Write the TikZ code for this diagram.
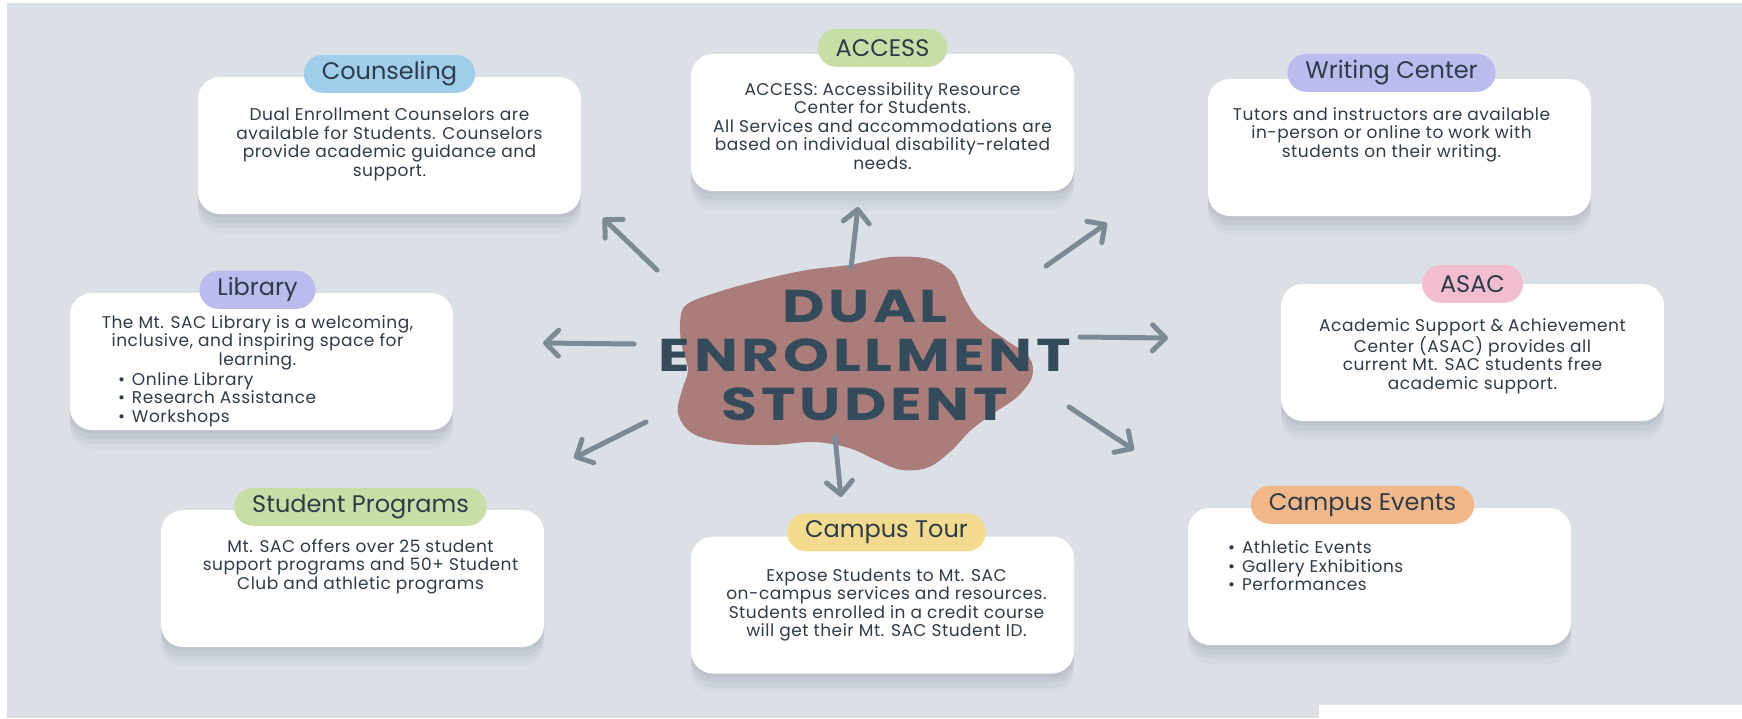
\documentclass[tikz,border=0pt]{standalone}
\usepackage{fontspec}
\setmainfont{Poppins}
\newfontfamily\titlefont[FakeStretch=1.27,LetterSpace=8]{Poppins}
\newfontfamily\bodyfont[LetterSpace=3]{Poppins}
\usetikzlibrary{positioning,arrows.meta,calc}
\definecolor{bgcol}{RGB}{219,224,231}
\definecolor{inkcol}{RGB}{46,60,74}
\definecolor{titlecol}{RGB}{52,75,92}
\definecolor{blobcol}{RGB}{170,125,123}
\definecolor{arrcol}{RGB}{124,138,150}
\definecolor{shadecol}{RGB}{110,120,135}
\definecolor{bluepill}{RGB}{160,205,234}
\definecolor{greenpill}{RGB}{199,223,166}
\definecolor{lilacpill}{RGB}{185,188,236}
\definecolor{pinkpill}{RGB}{242,189,207}
\definecolor{yellowpill}{RGB}{242,219,143}
\definecolor{orangepill}{RGB}{243,184,138}
\newcommand{\bul}[1]{\makebox[14pt][l]{•}#1}

\begin{document}
\begin{tikzpicture}[x=1pt,y=-1pt,
    card/.style={fill=white,rounded corners=22pt,minimum width=383pt,minimum height=137pt,
      preaction={fill=shadecol,opacity=0.09,transform canvas={yshift=-4pt}},
      preaction={fill=shadecol,opacity=0.08,transform canvas={yshift=-9pt}},
      preaction={fill=shadecol,opacity=0.07,transform canvas={yshift=-14pt}},
      preaction={fill=shadecol,opacity=0.05,transform canvas={yshift=-19pt}}},
    pill/.style={rounded corners=19pt,minimum height=38pt,inner xsep=18pt,text=inkcol,
      font=\fontsize{24}{26}\selectfont},
    body/.style={align=center,inner sep=0pt,text=inkcol,font=\bodyfont\fontsize{17}{18.5}\selectfont},
    arr/.style={draw=arrcol,line width=5pt,line cap=round,-{Straight Barb[length=13pt,width=26pt,round]}}]
  \useasboundingbox (0,0) rectangle (1742,718);
  \fill[white] (0,0) rectangle (1742,718);
  \fill[bgcol] (7,3) rectangle (1742,718);
  \fill[white] (1319,705) rectangle (1742,718);

  % the cards
  \node[card] (counselbox) at (389.5,145.5) {};
  \node[card] (accessbox) at (882.5,122.5) {};
  \node[card] (writingbox) at (1399.5,147.5) {};
  \node[card] (librarybox) at (261.5,361.5) {};
  \node[card] (asacbox) at (1472.5,352.5) {};
  \node[card] (programsbox) at (352.5,578.5) {};
  \node[card] (tourbox) at (882.5,605) {};
  \node[card] (eventsbox) at (1379.5,576.5) {};

  % labels
  \node[pill,fill=bluepill] (counsel) at ([yshift=3pt]counselbox.north) {Counseling};
  \node[pill,fill=greenpill] (access) at ([yshift=6pt]accessbox.north) {ACCESS};
  \node[pill,fill=lilacpill] (writing) at ([xshift=-8pt,yshift=6pt]writingbox.north) {Writing Center};
  \node[pill,fill=lilacpill] (library) at ([xshift=-4pt,yshift=3pt]librarybox.north) {Library};
  \node[pill,fill=pinkpill] (asac) at (asacbox.north) {ASAC};
  \node[pill,fill=greenpill] (programs) at ([xshift=8pt,yshift=3pt]programsbox.north) {Student Programs};
  \node[pill,fill=yellowpill] (tour) at ([xshift=4pt,yshift=4pt]tourbox.north) {Campus Tour};
  \node[pill,fill=orangepill] (events) at ([xshift=-17pt,yshift=3pt]eventsbox.north) {Campus Events};

  \node[body,below=15pt of counsel] (counseltext) {Dual Enrollment Counselors are\\available for Students. Counselors\\provide academic guidance and\\support.};
  \node[body,below=15pt of access] (accesstext) {ACCESS: Accessibility Resource\\Center for Students.\\All Services and accommodations are\\based on individual disability-related\\needs.};
  \node[body,below=15pt of writing] (writingtext) {Tutors and instructors are available\\in-person or online to work with\\students on their writing.};
  \node[body,below=6pt of library] (librarytext) {The Mt. SAC Library is a welcoming,\\inclusive, and inspiring space for\\learning.};
  \node[body,align=left,anchor=north west] (librarylist) at ($(librarybox.west |- librarytext.south)+(48pt,-2pt)$) {\bul{Online Library}\\\bul{Research Assistance}\\\bul{Workshops}};
  \node[body,below=15pt of asac] (asactext) {Academic Support \& Achievement\\Center (ASAC) provides all\\current Mt. SAC students free\\academic support.};
  \node[body,below=13pt of programs] (programstext) {Mt. SAC offers over 25 student\\support programs and 50+ Student\\Club and athletic programs};
  \node[body,below=17pt of tour] (tourtext) {Expose Students to Mt. SAC\\on-campus services and resources.\\Students enrolled in a credit course\\will get their Mt. SAC Student ID.};
  \node[body,align=left,anchor=north west] (eventslist) at ([xshift=40pt,yshift=-33pt]eventsbox.north west) {\bul{Athletic Events}\\\bul{Gallery Exhibitions}\\\bul{Performances}};

  % centre
  \fill[blobcol] plot[smooth cycle,tension=0.6] coordinates {(686,305) (715,293) (761,280) (807,270) (849,265)
    (891,257) (929,259) (952,272) (964,297) (979,320) (1006,340) (1029,357) (1032,377) (1017,397)
    (994,413) (971,430) (952,450) (929,467) (902,470) (876,460) (849,448) (814,442) (772,445)
    (726,443) (692,433) (678,413) (682,390) (688,370) (682,347) (680,323)};
  \node[align=center,text=titlecol,font=\titlefont\bfseries\fontsize{46}{49}\selectfont] (dual) at (865,356) {DUAL\\ENROLLMENT\\STUDENT};

  % arrows
  \coordinate (a1) at (657,270); \coordinate (b1) at (603,218);
  \coordinate (a2) at (851,268); \coordinate (b2) at (858,207);
  \coordinate (a3) at (1046,266); \coordinate (b3) at (1107,223);
  \coordinate (a4) at (634,344); \coordinate (b4) at (543,343);
  \coordinate (a5) at (1080,337); \coordinate (b5) at (1168,338);
  \coordinate (a6) at (646,422); \coordinate (b6) at (574,458);
  \coordinate (a7) at (835,437); \coordinate (b7) at (841,497);
  \coordinate (a8) at (1069,407); \coordinate (b8) at (1134,450);
  \foreach \i in {1,...,8}
    \draw[arr] (a\i) -- (b\i);
\end{tikzpicture}
\end{document}
